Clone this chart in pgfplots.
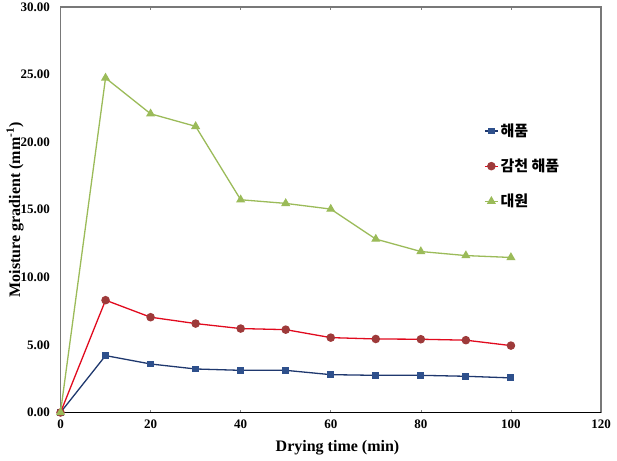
\documentclass[border=0pt]{standalone}
\usepackage{pgfplots}
\pgfplotsset{compat=1.18}
\usepackage{fontspec}
\setmainfont{Liberation Serif}
\newfontfamily\kr{Noto Sans CJK KR}
\definecolor{bline}{RGB}{31,56,110}
\definecolor{bmark}{RGB}{46,80,140}
\definecolor{rline}{RGB}{225,10,30}
\definecolor{rmark}{RGB}{158,58,58}
\definecolor{gline}{RGB}{155,187,89}
\definecolor{framegray}{RGB}{120,120,120}
\begin{document}
\begin{tikzpicture}
\useasboundingbox (0,0) rectangle (617pt,460pt);
\begin{axis}[
  at={(60.5pt,47.5pt)}, anchor=south west,
  scale only axis, width=540.5pt, height=405.5pt,
  xmin=0, xmax=120, ymin=0, ymax=30,
  xtick={0,20,...,120}, ytick={0,5,...,30},
  axis line style={draw=framegray, line width=1.6pt},
  xtick style={draw=gray, line width=0.6pt},
  ytick style={draw=none},
  tick align=inside, major tick length=3pt,
  /pgf/number format/assume math mode=true,
  yticklabel={\pgfmathprintnumber[fixed,fixed zerofill,precision=2]{\tick}},
  ticklabel style={font=\bfseries\fontsize{13}{13}\selectfont},
  xticklabel style={yshift=-4pt},
  yticklabel style={xshift=-7pt},
  xlabel={Drying time (min)},
  ylabel={Moisture gradient (mm\textsuperscript{-1})},
  xlabel style={font=\bfseries\fontsize{16}{16}\selectfont, at={(axis description cs:0.5125,0)}, anchor=center, yshift=-35pt},
  ylabel style={font=\bfseries\fontsize{16}{16}\selectfont, at={(axis description cs:-0.0842,0.5)}, anchor=center},
  legend style={at={(axis description cs:0.778,0.722)}, anchor=north west, draw=none, fill=none,
    font=\kr\bfseries\fontsize{15}{15}\selectfont, row sep=17pt,
    /tikz/every even column/.append style={column sep=0pt}},
  legend cell align=left,
  legend image code/.code={\draw[mark repeat=2,mark phase=2] plot coordinates {(0pt,0pt)(6.5pt,0pt)(13pt,0pt)};},
  clip=false,
]
\addplot[color=bline, line width=1.3pt, mark=square*, mark size=2.8pt, mark options={fill=bmark, draw=bmark}] coordinates {
(0,0) (10,4.21) (20,3.59) (30,3.22) (40,3.12) (50,3.12) (60,2.80) (70,2.75) (80,2.75) (90,2.68) (100,2.56)};
\addlegendentry{해품}
\addplot[color=rline, line width=1.3pt, mark=*, mark size=3.6pt, mark options={fill=rmark, draw=rmark}] coordinates {
(0,0) (10,8.31) (20,7.05) (30,6.58) (40,6.21) (50,6.13) (60,5.54) (70,5.44) (80,5.42) (90,5.35) (100,4.95)};
\addlegendentry{감천 해품}
\addplot[color=gline, line width=1.3pt, mark=triangle*, mark size=4pt, mark options={fill=gline, draw=gline}] coordinates {
(0,0) (10,24.75) (20,22.10) (30,21.17) (40,15.74) (50,15.47) (60,15.05) (70,12.83) (80,11.91) (90,11.61) (100,11.47)};
\addlegendentry{대원}
\draw[black, line width=1.4pt] (rel axis cs:0,0) -- (rel axis cs:1,0);
\end{axis}
\end{tikzpicture}
\end{document}
